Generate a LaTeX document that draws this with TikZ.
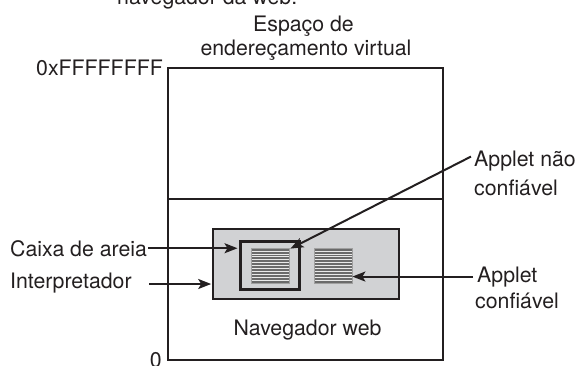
\documentclass[tikz,border=0pt]{standalone}
\usepackage{fontspec}
\setmainfont{TeX Gyre Heros}
\usetikzlibrary{arrows.meta}
\definecolor{ink}{HTML}{231F20}
\definecolor{boxgray}{HTML}{D1D2D4}
\definecolor{stripegray}{HTML}{6A6A6A}
\definecolor{edgegray}{HTML}{A0A0A0}
\tikzset{
  lbl/.style={inner sep=0pt, font=\fontsize{21.3}{24}\selectfont, text=ink},
  arr/.style={draw=ink, line width=2pt, -{Stealth[length=13pt,width=10pt,inset=3pt]}},
  plainline/.style={draw=ink, line width=2pt},
  applet/.style={draw=edgegray, line width=0.8pt, fill=stripegray, minimum width=38pt, minimum height=35pt, inner sep=0pt,
    path picture={\foreach \i in {1,...,11}{\draw[white!85!stripegray, line width=0.6pt]
      ([yshift=-\i*2.9pt]path picture bounding box.north west) -- ++(40pt,0);}}},
}
\begin{document}
\begin{tikzpicture}[x=1pt,y=-1pt]
\useasboundingbox (0,0) rectangle (575,365);
% partially cut caption line at the top
\node[lbl, anchor=base west] (caption) at (117,4) {navegador da web.};
% virtual address space
\node[draw=ink, line width=2pt, minimum width=275pt, minimum height=292pt, inner sep=0pt] (vas) at (305.5,214) {};
\coordinate (divy) at (0,199);
\draw[plainline] (vas.west |- divy) -- (vas.east |- divy);
\node[lbl, anchor=base] (title1) at (303.5,31) {Espaço de};
\node[lbl, anchor=base] (title2) at (306,55) {endereçamento virtual};
\node[lbl, anchor=base east] (hi) at (163,75) {0xFFFFFFFF};
\node[lbl, anchor=base east] (lo) at (162,367) {0};
% browser
\node[draw=ink, line width=1.6pt, fill=boxgray, minimum width=186pt, minimum height=70pt, inner sep=0pt] (browser) at (306,264) {};
\node[draw=ink, line width=3pt, minimum width=59pt, minimum height=48pt, inner sep=0pt] (sandbox) at (270,265.5) {};
\node[applet] (untrusted) at (270,265.5) {};
\node[applet] (trusted) at (333,265.5) {};
\node[lbl, anchor=base] (nav) at (307.5,335) {Navegador web};
% left labels
\node[lbl, anchor=base west] (caixa) at (10,256) {Caixa de areia};
\node[lbl, anchor=base west] (interp) at (10,288) {Interpretador};
\coordinate (interpstart) at (149,284);
\draw[arr, shorten >=1.5pt] ([xshift=1pt]caixa.east) -- (caixa.east -| sandbox.west);
\draw[arr, shorten >=1pt] (interpstart) -- (interpstart -| browser.west);
% right labels
\node[lbl, anchor=base west] (un1) at (474,166) {Applet não};
\node[lbl, anchor=base west] (un2) at (474,195) {confiável};
\node[lbl, anchor=base west] (tr1) at (477,282) {Applet};
\node[lbl, anchor=base west] (tr2) at (475,308) {confiável};
\draw[arr] ([xshift=-3pt,yshift=4pt]un1.west) -- ([xshift=1pt,yshift=-1pt]untrusted.north east);
\draw[arr] ([xshift=-4pt]tr1.west) -- (tr1.west -| trusted.east);
\end{tikzpicture}
\end{document}
